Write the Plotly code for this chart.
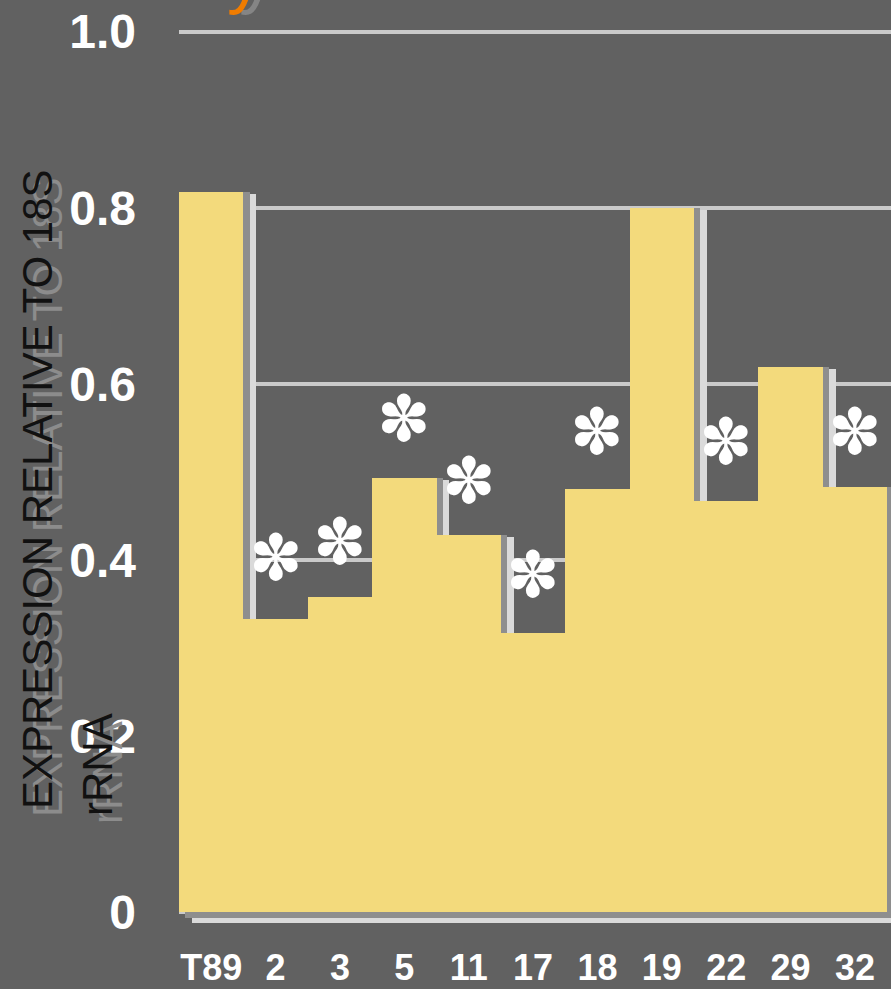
import plotly.graph_objects as go

# ---- data ----
categories = ["T89", "2", "3", "5", "11", "17", "18", "19", "22", "29", "32"]
expression = [0.818, 0.333, 0.358, 0.493, 0.428, 0.317, 0.481, 0.800, 0.467, 0.619, 0.483]
star_categories = ["2", "3", "5", "11", "17", "18", "22", "32"]
star_levels = [0.402, 0.420, 0.560, 0.490, 0.383, 0.545, 0.534, 0.545]
y_tickvals = [0, 0.2, 0.4, 0.6, 0.8, 1.0]
y_ticktext = ["0", "0.2", "0.4", "0.6", "0.8", "1.0"]

BG = "#616161"
BAR = "#f3da7c"
TICKFONT = "Liberation Sans, Arial, sans-serif"

x_idx = list(range(len(categories)))

fig = go.Figure()

# soft drop shadow behind bars
fig.add_trace(go.Bar(x=x_idx, y=[v + 0.010 for v in expression], base=-0.012,
                     width=1, offset=-0.5 + 0.20, marker=dict(color="#dadada", line_width=0),
                     hoverinfo="skip", showlegend=False))
fig.add_trace(go.Bar(x=x_idx, y=[v + 0.006 for v in expression], base=-0.006,
                     width=1, offset=-0.5 + 0.10, marker=dict(color="#8e8e8e", line_width=0),
                     hoverinfo="skip", showlegend=False))
# main bars
fig.add_trace(go.Bar(x=x_idx, y=expression, width=1, offset=-0.5,
                     marker=dict(color=BAR, line_width=0),
                     showlegend=False))

annotations = []
# significance asterisks
for c, lv in zip(star_categories, star_levels):
    annotations.append(dict(x=categories.index(c), y=lv, xref="x", yref="y", text="✽", showarrow=False,
                            font=dict(family="DejaVu Sans", size=64, color="white"),
                            xanchor="center", yanchor="middle"))

# y-axis title (two lines) with soft shadow
title_font = "Liberation Sans, Arial, sans-serif"
for dx, dy, col in [(10, 8, "#8c8c8c"), (0, 0, "#111111")]:
    annotations.append(dict(x=-142 / 712 + dx / 712, y=(930 - 489 - dy) / 916, xref="paper", yref="paper",
                            text="EXPRESSION RELATIVE TO 18S", textangle=-90, showarrow=False,
                            font=dict(family=title_font, size=42, color=col),
                            xanchor="center", yanchor="middle"))
    annotations.append(dict(x=-82 / 712 + dx / 712, y=(930 - 765 - dy) / 916, xref="paper", yref="paper",
                            text="rRNA", textangle=-90, showarrow=False,
                            font=dict(family=title_font, size=42, color=col),
                            xanchor="center", yanchor="middle"))

# cropped orange title glyph at the very top
for dx, col in [(12, "#858585"), (0, "#f07c00")]:
    annotations.append(dict(x=(245 - 179 + dx) / 712, y=(930 - 17) / 916, xref="paper", yref="paper",
                            text="y", showarrow=False,
                            font=dict(family="Liberation Sans, sans-serif", size=72, color=col),
                            xanchor="center", yanchor="bottom"))

fig.update_layout(
    width=891, height=989,
    margin=dict(l=179, r=0, t=14, b=59, autoexpand=False),
    paper_bgcolor=BG, plot_bgcolor=BG,
    barmode="overlay", bargap=0,
    annotations=annotations,
    xaxis=dict(range=[-0.5, 10.56], tickvals=x_idx, ticktext=categories,
               showgrid=False, zeroline=False, automargin=False,
               showline=False, ticks="", ticklabelstandoff=13,
               tickfont=dict(family=TICKFONT, size=36, color="white", weight="bold")),
    yaxis=dict(range=[-0.02, 1.02], tickvals=y_tickvals, ticktext=y_ticktext,
               showgrid=True, gridcolor="#cacaca", gridwidth=4, zeroline=False,
               showline=False, ticks="", ticklabelstandoff=42, automargin=False,
               tickfont=dict(family=TICKFONT, size=48, color="white", weight="bold")),
)

fig.write_html("out.html", config={"displayModeBar": False},
               post_script="document.body.style.margin='0';document.body.style.background='#616161';"
                           "document.body.style.overflow='hidden';")
